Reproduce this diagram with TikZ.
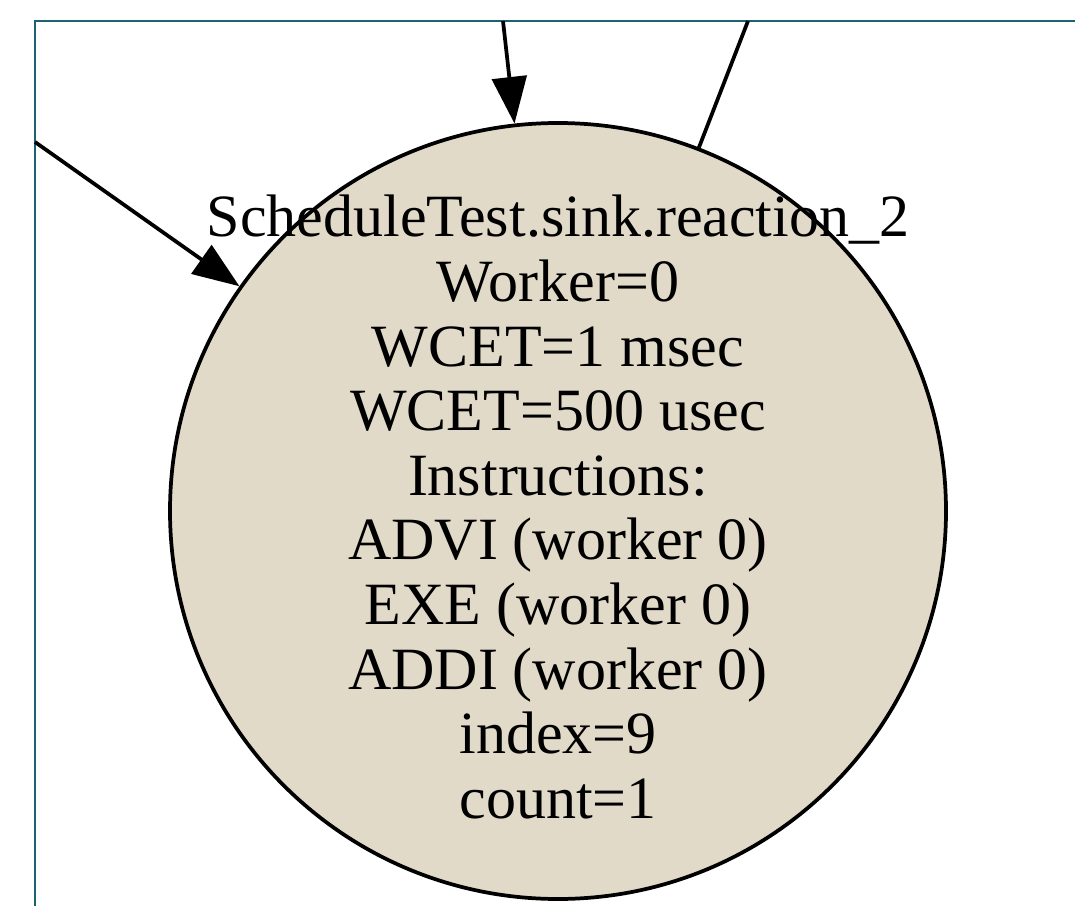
\documentclass[tikz,border=0pt]{standalone}
\usepackage{fontspec}
\setmainfont{Liberation Serif}
\usetikzlibrary{arrows.meta}
\definecolor{nodefill}{RGB}{226,218,201}
\definecolor{framecol}{RGB}{28,98,112}
\begin{document}
\begin{tikzpicture}[x=0.75pt,y=-0.75pt,
  reaction/.style={circle, draw=black, line width=2.8pt, fill=nodefill,
    minimum size=582pt, inner sep=0pt},
  nodetext/.style={align=center, inner sep=0pt,
    font=\fontsize{45}{48.45}\selectfont},
  link/.style={draw=black, line width=2.8pt},
  arrowed/.style={link, -{Triangle[length=35pt,width=26pt]}},
  viewframe/.style={draw=framecol, line width=1.7pt}]
\useasboundingbox (0,0) rectangle (1075,906);

% visible window border
\draw[viewframe] (35,906) -- (35,21) -- (1075,21);

% edge ends leaving the window
\coordinate (srcA) at (35,142);
\coordinate (srcB) at (503,21);
\coordinate (dstC) at (748,21);

% the reaction node
\node[reaction] (r2) at (558,511) {};

% connectors
\draw[arrowed] (srcA) -- (r2);
\draw[arrowed] (srcB) -- (r2);
\draw[link] (r2) -- (dstC);

% node label
\node[nodetext] (r2text) at (558,507) {ScheduleTest.sink.reaction\_2\\
Worker=0\\
WCET=1 msec\\
WCET=500 usec\\
Instructions:\\
ADVI (worker 0)\\
EXE (worker 0)\\
ADDI (worker 0)\\
index=9\\
count=1};
\end{tikzpicture}
\end{document}
